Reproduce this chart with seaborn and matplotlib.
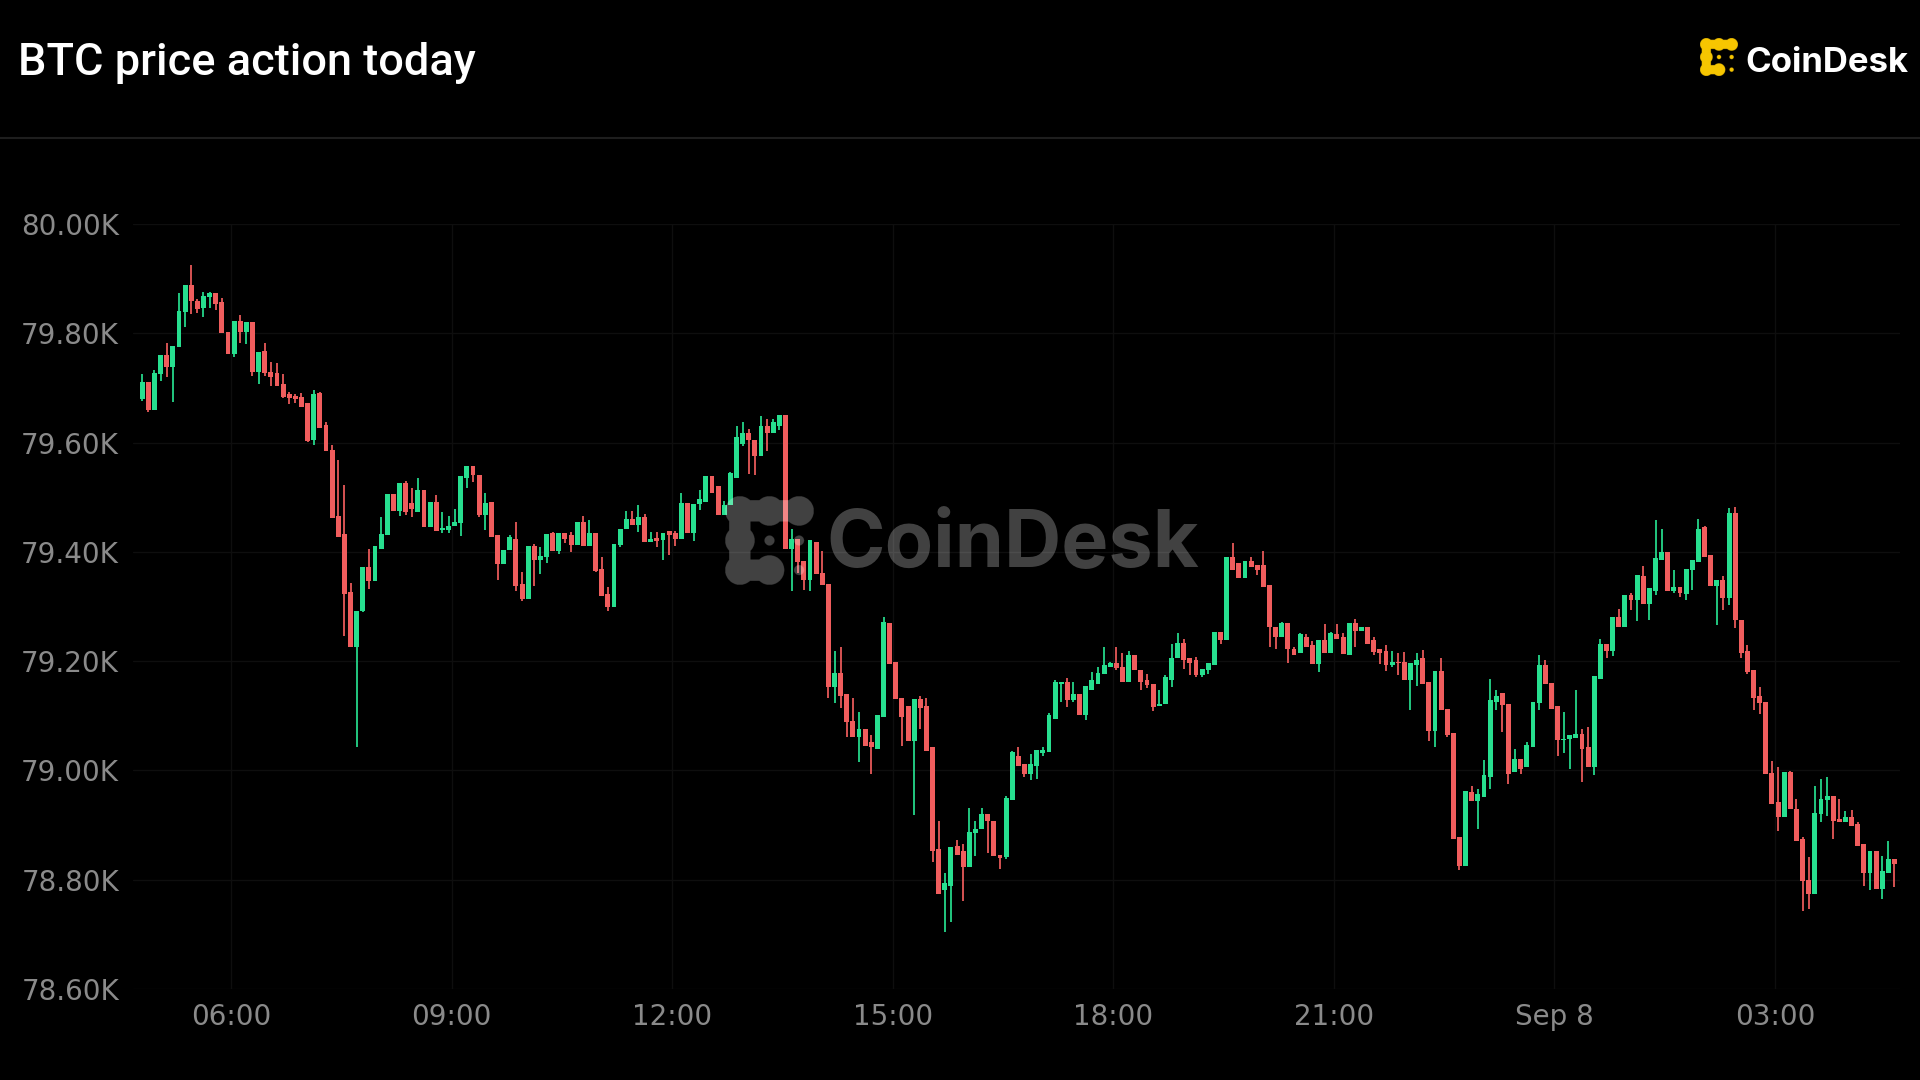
import numpy as np
import pandas as pd
import matplotlib
matplotlib.use('Agg')
import matplotlib.pyplot as plt
import matplotlib.dates as mdates
from matplotlib.lines import Line2D
from matplotlib.colors import to_rgb
import seaborn as sns

# BTC 5-minute candles, Sep 7 04:45 -> Sep 8 04:35
opens = [
    79679, 79711, 79659, 79725, 79760, 79739, 79774, 79839, 79888, 79860, 79847, 79866,
    79873, 79858, 79803, 79763, 79823, 79802, 79821, 79730, 79768, 79730, 79727, 79708,
    79689, 79685, 79684, 79672, 79604, 79690, 79632, 79587, 79465, 79433, 79326, 79225,
    79292, 79372, 79346, 79406, 79430, 79506, 79475, 79526, 79490, 79473, 79513, 79446,
    79492, 79440, 79440, 79447, 79452, 79535, 79558, 79541, 79467, 79492, 79431, 79377,
    79403, 79424, 79342, 79314, 79411, 79386, 79390, 79435, 79402, 79435, 79430, 79412,
    79455, 79410, 79434, 79369, 79322, 79299, 79412, 79441, 79461, 79449, 79464, 79418,
    79426, 79421, 79438, 79434, 79424, 79489, 79435, 79487, 79492, 79539, 79520, 79468,
    79486, 79535, 79597, 79618, 79605, 79575, 79630, 79617, 79630, 79650, 79405, 79424,
    79383, 79349, 79418, 79362, 79342, 79153, 79179, 79140, 79091, 79061, 79075, 79052,
    79039, 79097, 79269, 79199, 79133, 79117, 79054, 79130, 79117, 79042, 78856, 78781,
    78788, 78862, 78852, 78823, 78885, 78892, 78921, 78908, 78846, 78841, 78945, 79027,
    79012, 78994, 79009, 79032, 79034, 79095, 79158, 79162, 79128, 79139, 79101, 79148,
    79159, 79177, 79189, 79196, 79189, 79162, 79211, 79183, 79166, 79158, 79117, 79121,
    79165, 79205, 79234, 79205, 79202, 79174, 79183, 79193, 79254, 79238, 79390, 79380,
    79352, 79384, 79376, 79376, 79339, 79263, 79245, 79269, 79223, 79215, 79245, 79229,
    79194, 79238, 79214, 79249, 79244, 79211, 79270, 79256, 79263, 79238, 79223, 79219,
    79193, 79199, 79199, 79165, 79193, 79205, 79162, 79073, 79182, 79113, 79068, 78879,
    78826, 78960, 78944, 78951, 78988, 79125, 79141, 79122, 78997, 79021, 79006, 79043,
    79123, 79193, 79160, 79117, 79055, 79058, 79060, 79066, 79042, 79007, 79168, 79232,
    79219, 79281, 79262, 79321, 79311, 79356, 79305, 79329, 79385, 79400, 79329, 79336,
    79323, 79366, 79382, 79445, 79394, 79338, 79349, 79315, 79471, 79275, 79219, 79183,
    79136, 79125, 78995, 78942, 78914, 78997, 78930, 78874, 78799, 78774, 78920, 78945,
    78954, 78911, 78905, 78914, 78902, 78865, 78813, 78853, 78783, 78813, 78838,
]
highs = [
    79725, 79711, 79733, 79760, 79782, 79777, 79873, 79889, 79925, 79862, 79875, 79875,
    79874, 79865, 79803, 79823, 79834, 79821, 79821, 79766, 79782, 79748, 79745, 79725,
    79692, 79688, 79690, 79672, 79696, 79693, 79638, 79595, 79568, 79522, 79343, 79292,
    79372, 79406, 79410, 79464, 79506, 79506, 79526, 79530, 79516, 79536, 79513, 79491,
    79504, 79473, 79465, 79478, 79539, 79558, 79558, 79541, 79507, 79492, 79431, 79403,
    79431, 79455, 79363, 79411, 79414, 79409, 79432, 79437, 79435, 79435, 79437, 79455,
    79465, 79458, 79434, 79390, 79336, 79415, 79441, 79475, 79475, 79486, 79469, 79436,
    79437, 79434, 79438, 79438, 79507, 79489, 79487, 79514, 79539, 79539, 79520, 79493,
    79546, 79631, 79637, 79625, 79605, 79648, 79643, 79644, 79650, 79650, 79441, 79424,
    79383, 79421, 79418, 79401, 79342, 79218, 79225, 79140, 79133, 79107, 79075, 79065,
    79101, 79280, 79269, 79199, 79133, 79117, 79130, 79137, 79133, 79042, 78908, 78813,
    78860, 78872, 78865, 78931, 78908, 78931, 78921, 78908, 78846, 78954, 79035, 79043,
    79012, 79030, 79038, 79043, 79105, 79165, 79162, 79170, 79162, 79139, 79154, 79180,
    79190, 79226, 79199, 79225, 79215, 79219, 79211, 79183, 79177, 79158, 79148, 79174,
    79232, 79251, 79240, 79205, 79208, 79186, 79197, 79254, 79254, 79390, 79416, 79380,
    79384, 79391, 79376, 79402, 79339, 79263, 79272, 79269, 79226, 79252, 79249, 79237,
    79238, 79268, 79254, 79268, 79251, 79270, 79278, 79263, 79263, 79244, 79223, 79229,
    79219, 79214, 79217, 79196, 79214, 79220, 79162, 79182, 79205, 79113, 79068, 78879,
    78962, 78971, 78966, 79019, 79168, 79147, 79141, 79122, 79040, 79021, 79052, 79125,
    79211, 79203, 79160, 79117, 79107, 79064, 79148, 79076, 79079, 79172, 79240, 79232,
    79281, 79295, 79321, 79325, 79358, 79374, 79333, 79459, 79441, 79400, 79367, 79336,
    79368, 79386, 79460, 79448, 79394, 79349, 79355, 79480, 79483, 79275, 79229, 79183,
    79152, 79125, 79018, 79006, 78997, 78999, 78948, 78878, 78841, 78972, 78985, 78988,
    78954, 78948, 78925, 78928, 78905, 78865, 78853, 78853, 78844, 78870, 78838,
]
lows = [
    79676, 79656, 79659, 79713, 79720, 79675, 79774, 79812, 79835, 79838, 79829, 79847,
    79843, 79800, 79763, 79756, 79782, 79780, 79722, 79707, 79722, 79704, 79704, 79681,
    79670, 79672, 79665, 79601, 79595, 79627, 79585, 79462, 79428, 79246, 79225, 79043,
    79290, 79332, 79346, 79406, 79430, 79475, 79465, 79467, 79464, 79473, 79446, 79446,
    79439, 79434, 79435, 79447, 79429, 79516, 79527, 79464, 79440, 79428, 79348, 79377,
    79403, 79328, 79310, 79314, 79337, 79359, 79380, 79402, 79396, 79417, 79400, 79412,
    79410, 79410, 79363, 79320, 79292, 79299, 79409, 79441, 79449, 79437, 79418, 79418,
    79409, 79386, 79394, 79410, 79424, 79435, 79420, 79476, 79492, 79508, 79467, 79467,
    79486, 79535, 79594, 79542, 79540, 79575, 79584, 79617, 79623, 79405, 79329, 79362,
    79331, 79329, 79359, 79339, 79133, 79124, 79114, 79062, 79061, 79016, 79045, 78993,
    79039, 79097, 79195, 79130, 79045, 79054, 78918, 79075, 79035, 78833, 78774, 78705,
    78722, 78846, 78761, 78823, 78843, 78892, 78849, 78843, 78820, 78838, 78945, 79009,
    78988, 78982, 78985, 79026, 79034, 79095, 79125, 79116, 79125, 79101, 79092, 79148,
    79159, 79177, 79189, 79183, 79162, 79162, 79183, 79147, 79150, 79109, 79117, 79121,
    79153, 79205, 79186, 79174, 79171, 79171, 79177, 79193, 79232, 79238, 79367, 79352,
    79352, 79373, 79358, 79336, 79226, 79223, 79245, 79197, 79211, 79215, 79226, 79194,
    79180, 79214, 79214, 79241, 79213, 79211, 79226, 79256, 79232, 79211, 79194, 79182,
    79189, 79174, 79165, 79110, 79154, 79158, 79054, 79042, 79110, 79061, 78875, 78818,
    78826, 78944, 78893, 78951, 78966, 79111, 79070, 78975, 78997, 78994, 79006, 79043,
    79110, 79158, 79113, 79027, 79031, 79003, 79060, 78979, 79007, 78991, 79168, 79205,
    79209, 79263, 79262, 79293, 79274, 79305, 79276, 79321, 79385, 79329, 79324, 79317,
    79312, 79331, 79382, 79390, 79338, 79266, 79293, 79303, 79260, 79205, 79176, 79110,
    79104, 78994, 78939, 78890, 78914, 78930, 78871, 78743, 78746, 78774, 78905, 78917,
    78875, 78905, 78905, 78899, 78862, 78789, 78781, 78783, 78764, 78813, 78786,
]
closes = [
    79711, 79659, 79728, 79760, 79739, 79777, 79841, 79889, 79860, 79844, 79868, 79873,
    79854, 79800, 79763, 79823, 79803, 79821, 79730, 79766, 79727, 79720, 79704, 79684,
    79681, 79679, 79665, 79602, 79689, 79627, 79585, 79462, 79428, 79323, 79225, 79292,
    79372, 79347, 79410, 79433, 79506, 79475, 79526, 79473, 79478, 79513, 79446, 79491,
    79439, 79444, 79447, 79455, 79539, 79558, 79541, 79467, 79490, 79428, 79377, 79403,
    79428, 79337, 79314, 79411, 79386, 79392, 79432, 79402, 79435, 79424, 79412, 79455,
    79410, 79434, 79365, 79320, 79299, 79415, 79441, 79461, 79449, 79464, 79418, 79424,
    79420, 79434, 79431, 79424, 79490, 79435, 79487, 79496, 79539, 79508, 79467, 79486,
    79544, 79610, 79618, 79604, 79575, 79630, 79617, 79637, 79650, 79405, 79424, 79382,
    79349, 79421, 79359, 79339, 79153, 79179, 79137, 79088, 79061, 79075, 79045, 79042,
    79101, 79271, 79195, 79130, 79097, 79054, 79130, 79114, 79035, 78852, 78774, 78794,
    78860, 78846, 78823, 78888, 78892, 78921, 78908, 78843, 78839, 78950, 79034, 79009,
    78994, 79012, 79038, 79038, 79101, 79162, 79162, 79128, 79139, 79101, 79154, 79165,
    79178, 79193, 79197, 79187, 79162, 79211, 79183, 79162, 79156, 79116, 79121, 79171,
    79206, 79234, 79202, 79196, 79174, 79186, 79197, 79254, 79238, 79390, 79367, 79352,
    79384, 79373, 79367, 79336, 79263, 79245, 79269, 79223, 79211, 79249, 79226, 79194,
    79238, 79214, 79251, 79241, 79213, 79270, 79256, 79263, 79232, 79217, 79214, 79193,
    79199, 79196, 79165, 79196, 79202, 79158, 79073, 79182, 79110, 79064, 78875, 78826,
    78962, 78944, 78957, 78991, 79128, 79137, 79119, 78994, 79021, 79003, 79046, 79125,
    79193, 79158, 79113, 79055, 79058, 79064, 79066, 79040, 79007, 79172, 79232, 79219,
    79281, 79263, 79321, 79311, 79358, 79305, 79333, 79388, 79400, 79329, 79336, 79324,
    79368, 79386, 79441, 79390, 79338, 79349, 79315, 79471, 79275, 79215, 79180, 79133,
    79123, 78994, 78939, 78914, 78997, 78930, 78871, 78798, 78774, 78923, 78948, 78954,
    78907, 78905, 78914, 78899, 78862, 78813, 78853, 78783, 78816, 78838, 78829,
]

y_ticks = [78600, 78800, 79000, 79200, 79400, 79600, 79800, 80000]
x_tick_times = ['2024-09-07 06:00', '2024-09-07 09:00', '2024-09-07 12:00', '2024-09-07 15:00',
                '2024-09-07 18:00', '2024-09-07 21:00', '2024-09-08 00:00', '2024-09-08 03:00']
x_tick_labels = ['06:00', '09:00', '12:00', '15:00', '18:00', '21:00', 'Sep 8', '03:00']

title = 'BTC price action today'
brand = 'CoinDesk'

GREEN = '#27df8f'
RED = '#f05d5d'
LABEL = '#8a8a8a'
GRID = '#0e0e0e'
W, H = 1920, 1080

sns.set_theme(style='dark', rc={
    'figure.facecolor': 'black', 'axes.facecolor': 'black', 'savefig.facecolor': 'black',
    'axes.grid': True, 'grid.color': GRID, 'grid.linewidth': 1.0,
    'xtick.color': LABEL, 'ytick.color': LABEL,
})
plt.rcParams['font.family'] = ['Inter', 'DejaVu Sans']

df = pd.DataFrame({'open': opens, 'high': highs, 'low': lows, 'close': closes},
                  index=pd.date_range('2024-09-07 04:45', periods=len(closes), freq='5min'))

fig = plt.figure(figsize=(W / 100, H / 100), dpi=100)
ax = fig.add_axes([133 / W, 1 - 989 / H, (1900 - 133) / W, (989 - 224) / H])

# candle centred in its 5-minute slot
x = mdates.date2num(df.index + pd.Timedelta(minutes=2.5))
up = df['close'].values >= df['open'].values
cols = np.where(up, GREEN, RED)
ax.vlines(x, df['low'], df['high'], colors=cols, linewidth=1.25, zorder=2)
body_lo = np.minimum(df['open'], df['close'])
body_h = np.maximum((df['close'] - df['open']).abs(), 2.5)
ax.bar(x, body_h, bottom=body_lo, width=4 / 1440, color=cols, linewidth=0, zorder=3)

ax.set_xlim(mdates.date2num(pd.Timestamp('2024-09-07 04:40')),
            mdates.date2num(pd.Timestamp('2024-09-08 04:42')))
ax.set_ylim(y_ticks[0], y_ticks[-1])
ax.set_yticks(y_ticks)
ax.set_yticklabels([f'{v / 1000:.2f}K' for v in y_ticks])
ax.set_xticks(mdates.date2num(pd.to_datetime(x_tick_times)))
ax.set_xticklabels(x_tick_labels)
ax.tick_params(axis='both', length=0, labelcolor=LABEL)
ax.tick_params(axis='y', pad=10)
ax.tick_params(axis='x', pad=10)
for lab in ax.get_xticklabels() + ax.get_yticklabels():
    lab.set_family('DejaVu Sans')
    lab.set_fontsize(20)
ax.grid(True, color=GRID, linewidth=1.0)
for s in ax.spines.values():
    s.set_visible(False)

# header
fig.text(18 / W, 1 - 75 / H, title, color='white', fontsize=32.5, fontweight='medium',
         family=['Roboto', 'DejaVu Sans'], ha='left', va='baseline')
fig.add_artist(Line2D([0, 1], [1 - 138 / H] * 2, color='#1e1e1e', linewidth=1.5))


def icon_image(color, alpha, n=300):
    g = np.linspace(0, 3, n)
    X, Y = np.meshgrid(g, g)
    m = np.zeros_like(X, dtype=bool)
    for cx, cy in [(0.5, 2.5), (1.5, 2.5), (2.5, 2.5), (0.5, 1.5), (0.5, 0.5), (1.5, 0.5)]:
        m |= (X - cx) ** 2 + (Y - cy) ** 2 <= 0.5 ** 2
    m |= (X >= 0.5) & (X <= 2.5) & (abs(Y - 2.5) <= 0.36)
    m |= (Y >= 0.5) & (Y <= 2.5) & (abs(X - 0.5) <= 0.36)
    m |= (X >= 0.5) & (X <= 1.5) & (abs(Y - 0.5) <= 0.36)
    for cx, cy in [(1.5, 1.5), (2.5, 1.5), (2.5, 0.5)]:
        m |= (X - cx) ** 2 + (Y - cy) ** 2 <= 0.17 ** 2
    img = np.zeros((n, n, 4))
    img[..., :3] = to_rgb(color)
    img[..., 3] = m * alpha
    return img


def draw_icon(x0, y0, size, color, alpha, z):
    iax = fig.add_axes([x0 / W, 1 - (y0 + size) / H, size / W, size / H], zorder=z)
    iax.imshow(icon_image(color, alpha), origin='lower', extent=(0, 3, 0, 3))
    iax.set_axis_off()


# logo top right
draw_icon(1700, 38, 38, '#f7c600', 1.0, 5)
fig.text(1745 / W, 1 - 72 / H, brand, color='white', fontsize=25, fontweight='bold',
         ha='left', va='baseline')

# watermark over the candles
draw_icon(725, 496, 89, 'white', 0.26, 6)
fig.text(826 / W, 1 - 567 / H, brand, color='white', alpha=0.26, fontsize=57,
         fontweight='bold', ha='left', va='baseline', zorder=6)

fig.savefig('out.png', dpi=100)
